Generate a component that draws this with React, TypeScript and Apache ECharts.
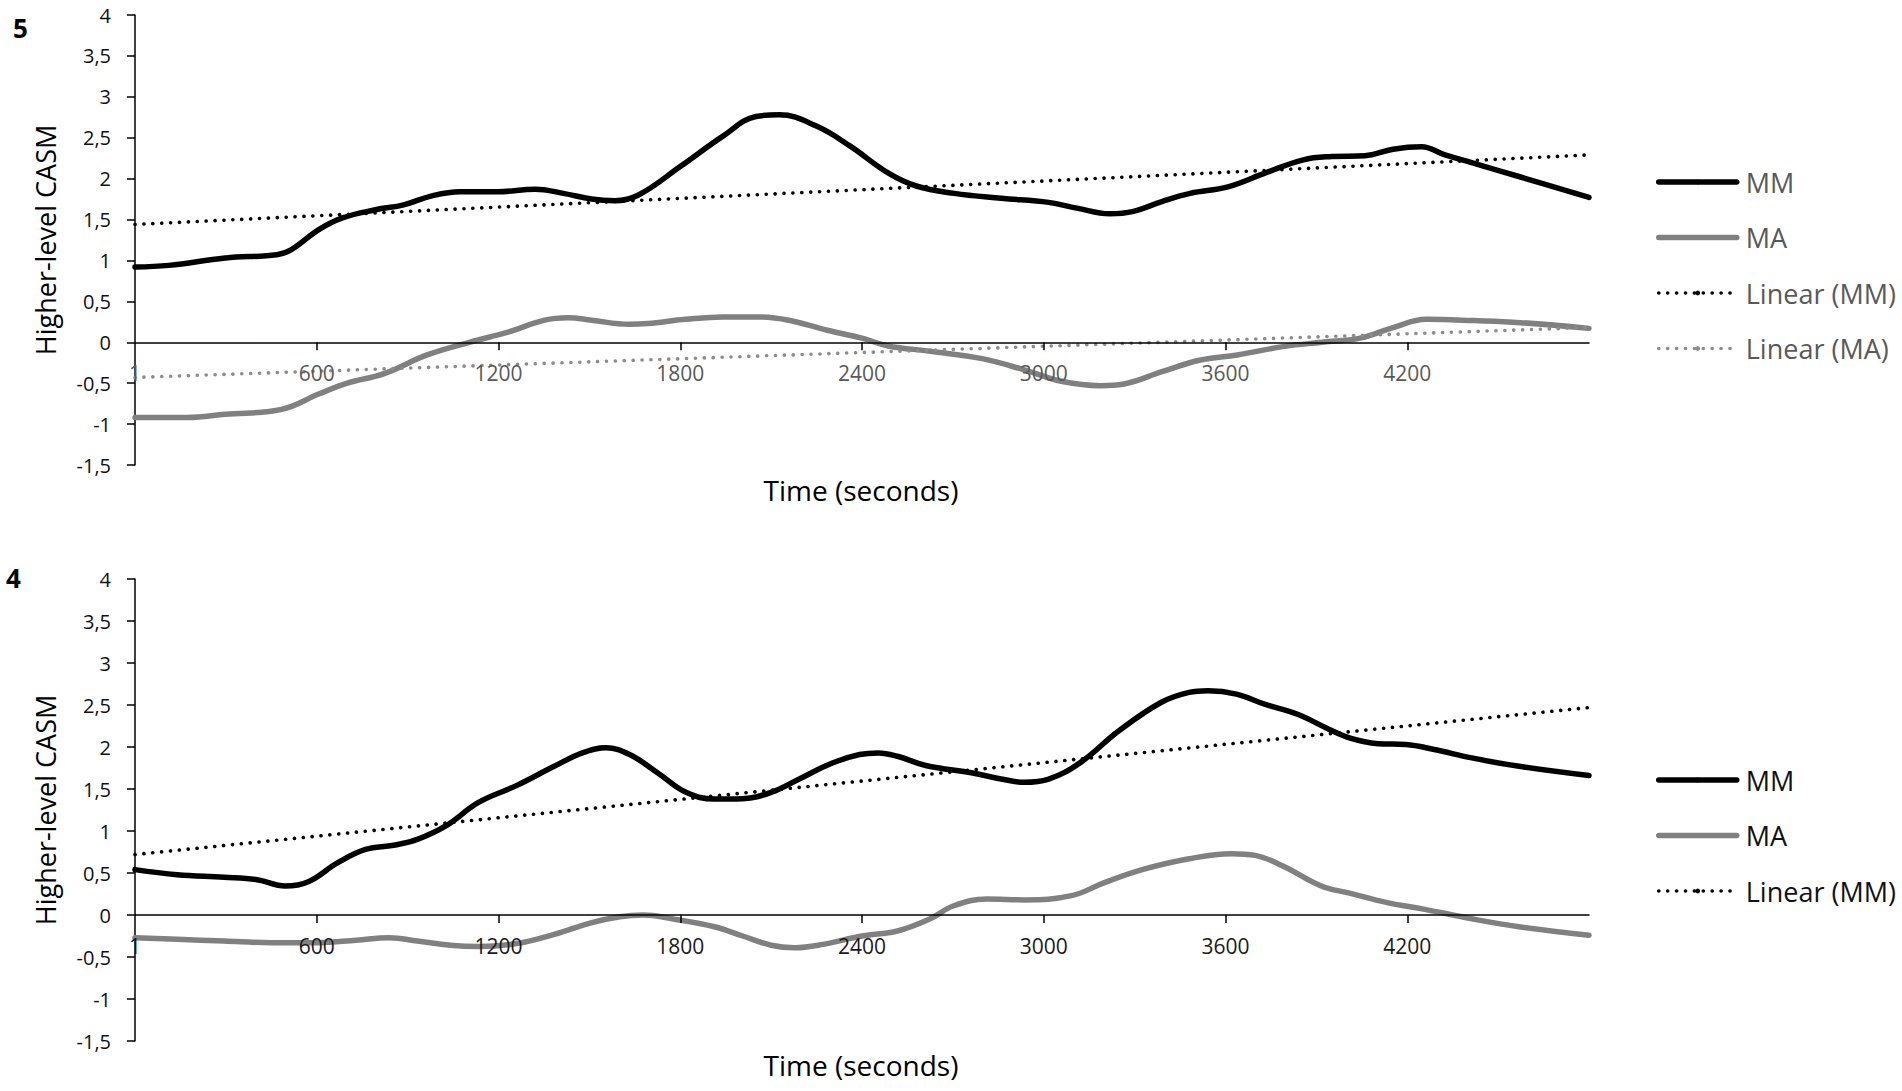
import React, { useEffect, useRef } from "react";
import * as echarts from "echarts";

// ---- Data ----
const xLabelValues = [0, 600, 1200, 1800, 2400, 3000, 3600, 4200];
const xTickValues = [600, 1200, 1800, 2400, 3000, 3600, 4200];
const Y_MIN = -1.5;
const Y_MAX = 4;
const Y_STEP = 0.5;

const topMM: [number, number][] = [
  [0, 0.92], [112, 0.94], [298, 1.03], [468, 1.07], [515, 1.13], [608, 1.38], [685, 1.52],
  [794, 1.62], [887, 1.68], [980, 1.79], [1073, 1.84], [1197, 1.84], [1321, 1.87], [1414, 1.82],
  [1507, 1.75], [1584, 1.73], [1662, 1.8], [1801, 2.15], [1941, 2.52], [2050, 2.76], [2127, 2.78],
  [2251, 2.64], [2360, 2.4], [2486, 2.07], [2579, 1.91], [2704, 1.82], [2860, 1.76], [3016, 1.71],
  [3109, 1.64], [3218, 1.57], [3296, 1.6], [3390, 1.72], [3483, 1.82], [3608, 1.9], [3732, 2.07],
  [3857, 2.23], [3951, 2.27], [4060, 2.28], [4153, 2.36], [4247, 2.39], [4325, 2.29], [4418, 2.19],
  [4574, 2.02], [4800, 1.77],
];
const topMA: [number, number][] = [
  [0, -0.92], [174, -0.92], [298, -0.88], [484, -0.82], [608, -0.63], [701, -0.5], [825, -0.38],
  [964, -0.155], [1104, 0], [1228, 0.12], [1352, 0.27], [1430, 0.3], [1507, 0.27], [1631, 0.22],
  [1693, 0.23], [1817, 0.28], [1941, 0.31], [2065, 0.31], [2158, 0.27], [2282, 0.15], [2400, 0.05],
  [2486, -0.045], [2626, -0.11], [2797, -0.2], [2938, -0.34], [3062, -0.48], [3187, -0.53],
  [3265, -0.51], [3390, -0.36], [3514, -0.22], [3639, -0.155], [3795, -0.05], [3919, 0],
  [4044, 0.05], [4153, 0.18], [4263, 0.28], [4418, 0.265], [4574, 0.24], [4800, 0.17],
];
const topLinearMM: [number, number][] = [[0, 1.44], [4800, 2.29]];
const topLinearMA: [number, number][] = [[0, -0.43], [4800, 0.18]];

const botMM: [number, number][] = [
  [0, 0.54], [139, 0.48], [294, 0.45], [403, 0.42], [496, 0.345], [574, 0.4], [668, 0.62],
  [761, 0.78], [854, 0.83], [932, 0.9], [1026, 1.06], [1134, 1.34], [1259, 1.54], [1384, 1.77],
  [1477, 1.93], [1555, 1.99], [1633, 1.91], [1726, 1.69], [1819, 1.46], [1913, 1.38], [2006, 1.385],
  [2100, 1.46], [2193, 1.62], [2302, 1.81], [2392, 1.91], [2454, 1.93], [2517, 1.89], [2610, 1.78],
  [2765, 1.69], [2859, 1.62], [2936, 1.58], [3014, 1.615], [3123, 1.82], [3247, 2.19], [3387, 2.53],
  [3480, 2.65], [3542, 2.67], [3636, 2.63], [3729, 2.51], [3838, 2.39], [3931, 2.23], [4009, 2.11],
  [4103, 2.04], [4196, 2.03], [4289, 1.97], [4413, 1.87], [4569, 1.77], [4800, 1.66],
];
const botMA: [number, number][] = [
  [0, -0.27], [139, -0.29], [294, -0.31], [450, -0.33], [605, -0.33], [730, -0.3], [839, -0.27],
  [932, -0.31], [1041, -0.36], [1134, -0.375], [1259, -0.34], [1384, -0.23], [1508, -0.09],
  [1601, -0.02], [1679, 0], [1773, -0.045], [1913, -0.14], [2006, -0.25], [2100, -0.36],
  [2177, -0.39], [2271, -0.35], [2400, -0.25], [2517, -0.19], [2625, -0.045], [2703, 0.11],
  [2812, 0.19], [2936, 0.18], [3092, 0.23], [3200, 0.385], [3325, 0.54], [3480, 0.67], [3620, 0.73],
  [3698, 0.71], [3791, 0.58], [3916, 0.345], [4009, 0.26], [4134, 0.147], [4258, 0.067],
  [4413, -0.045], [4569, -0.14], [4800, -0.24],
];
const botLinearMM: [number, number][] = [[0, 0.72], [4800, 2.47]];

const legendTop = ["MM", "MA", "Linear (MM)", "Linear (MA)"];
const legendBottom = ["MM", "MA", "Linear (MM)"];

const FONT = "'Open Sans', 'Noto Sans', sans-serif";
const BLACK = "#000000";
const GRAY = "#808080";
const DOTGRAY = "#8c8c8c";

const GRIDS = [
  { left: 135, top: 15, width: 1454, height: 450 },
  { left: 135, top: 579, width: 1454, height: 462 },
];

function xAxisDef(gridIndex: number, labelColor: string) {
  // place the axis where y = 0 falls inside the grid
  const h = GRIDS[gridIndex].height;
  const zeroOffset = -h * (0 - Y_MIN) / (Y_MAX - Y_MIN);
  return {
    gridIndex,
    type: "value",
    position: "bottom",
    offset: zeroOffset,
    min: 0,
    max: 4800,
    interval: 600,
    z: 5,
    axisLine: { show: true, onZero: false, lineStyle: { color: BLACK, width: 1.5 } },
    axisTick: { show: true, customValues: xTickValues, length: 8, lineStyle: { color: BLACK, width: 1.5 } },
    axisLabel: {
      customValues: xLabelValues,
      showMinLabel: true,
      hideOverlap: false,
      formatter: (v: number) => (v === 0 ? "1" : String(v)),
      margin: 20,
      fontSize: 21,
      color: labelColor,
      fontFamily: FONT,
    },
    splitLine: { show: false },
  };
}

function yAxisDef(gridIndex: number) {
  return {
    gridIndex,
    type: "value",
    min: Y_MIN,
    max: Y_MAX,
    interval: Y_STEP,
    axisLine: { show: true, onZero: false, lineStyle: { color: BLACK, width: 1.5 } },
    axisTick: { show: true, length: 8, lineStyle: { color: BLACK, width: 1.5 } },
    axisLabel: {
      formatter: (v: number) => String(v).replace(".", ","),
      margin: 24,
      fontSize: 20,
      color: "#111111",
      fontFamily: FONT,
    },
    splitLine: { show: false },
    name: "Higher-level CASM",
    nameLocation: "middle",
    nameGap: 76,
    nameTextStyle: { fontSize: 27, color: BLACK, fontFamily: FONT },
  };
}

function solid(name: string, data: [number, number][], idx: number, color: string) {
  return {
    name,
    type: "line",
    xAxisIndex: idx,
    yAxisIndex: idx,
    data,
    smooth: 0.4,
    symbol: "none",
    color,
    lineStyle: { color, width: 5.5, cap: "round", join: "round" },
    z: 2,
  };
}

function dotted(name: string, data: [number, number][], idx: number, color: string) {
  return {
    name,
    type: "line",
    xAxisIndex: idx,
    yAxisIndex: idx,
    data,
    symbol: "none",
    color,
    lineStyle: { color, width: 3.6, type: [0.1, 8.8], cap: "round" },
    z: 3,
  };
}

function legendDef(data: string[], top: number, color: string) {
  return {
    data,
    orient: "vertical",
    left: 1656,
    top,
    padding: 0,
    itemWidth: 78,
    itemHeight: 6,
    itemGap: 25.5,
    lineStyle: { width: "inherit" },
    textStyle: { fontSize: 27, color, fontFamily: FONT, lineHeight: 30, padding: [0, 0, 0, 4] },
    selectedMode: false,
  };
}

export default function App() {
  const ref = useRef<HTMLDivElement>(null);
  useEffect(() => {
    if (!ref.current) return;
    const chart = echarts.init(ref.current, null, { renderer: "svg" });
    const option: any = {
      animation: false,
      backgroundColor: "#ffffff",
      title: [
        { text: "5", left: 13, top: 15, padding: 0, textStyle: { fontSize: 26, fontWeight: "bold", color: BLACK, fontFamily: FONT } },
        { text: "4", left: 6, top: 565, padding: 0, textStyle: { fontSize: 26, fontWeight: "bold", color: BLACK, fontFamily: FONT } },
        { text: "Time (seconds)", left: 861, top: 476, textAlign: "center", padding: 0, textStyle: { fontSize: 28, fontWeight: "normal", color: BLACK, fontFamily: FONT } },
        { text: "Time (seconds)", left: 861, top: 1051, textAlign: "center", padding: 0, textStyle: { fontSize: 28, fontWeight: "normal", color: BLACK, fontFamily: FONT } },
      ],
      grid: GRIDS,
      xAxis: [xAxisDef(0, "#595959"), xAxisDef(1, "#1a1a1a")],
      yAxis: [yAxisDef(0), yAxisDef(1)],
      legend: [legendDef(legendTop, 167, "#595959"), legendDef(legendBottom, 765, "#111111")],
      series: [
        solid("MM", topMM, 0, BLACK),
        solid("MA", topMA, 0, GRAY),
        dotted("Linear (MM)", topLinearMM, 0, BLACK),
        dotted("Linear (MA)", topLinearMA, 0, DOTGRAY),
        solid("MM", botMM, 1, BLACK),
        solid("MA", botMA, 1, GRAY),
        dotted("Linear (MM)", botLinearMM, 1, BLACK),
      ],
    };
    chart.setOption(option);
    return () => chart.dispose();
  }, []);
  return (
    <div
      ref={ref}
      style={{ position: "fixed", left: 0, top: 0, width: 1902, height: 1091, background: "#fff" }}
    />
  );
}
